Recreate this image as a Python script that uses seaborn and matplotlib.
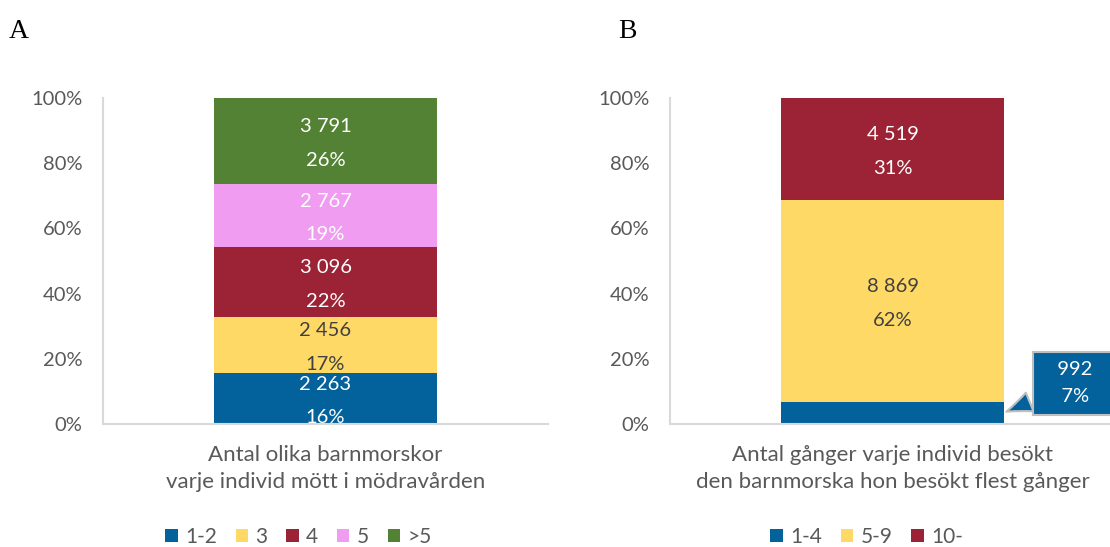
import numpy as np
import pandas as pd
import seaborn as sns
import matplotlib
matplotlib.use("Agg")
import matplotlib.pyplot as plt
from matplotlib.patches import Patch

# ---- data ----
cats_a = ["1-2", "3", "4", "5", ">5"]
counts_a = [2263, 2456, 3096, 2767, 3791]
colors_a = ["#03629B", "#FFD966", "#9B2335", "#F09CF0", "#548235"]
xlabel_a = "Antal olika barnmorskor\nvarje individ mött i mödravården"

cats_b = ["1-4", "5-9", "10-"]
counts_b = [992, 8869, 4519]
colors_b = ["#03629B", "#FFD966", "#9B2335"]
xlabel_b = "Antal gånger varje individ besökt\nden barnmorska hon besökt flest gånger"

yticks = [0, 0.2, 0.4, 0.6, 0.8, 1.0]
ytick_labels = ["0%", "20%", "40%", "60%", "80%", "100%"]

sns.set_theme(style="white")
plt.rcParams["font.family"] = ["Lato", "DejaVu Sans"]

W, H = 1110, 547
fig = plt.figure(figsize=(W / 100, H / 100), dpi=100)

def px_axes(l, t, r, b):
    return fig.add_axes([l / W, 1 - b / H, (r - l) / W, (b - t) / H])

ax_a = px_axes(103, 98, 548, 424)
ax_b = px_axes(670, 98, 1115, 424)

GRAY = "#595959"
FS = 14.5

def draw(ax, cats, counts, colors, xlabel, leg_x, callout_first=False):
    counts = np.array(counts, dtype=float)
    frac = counts / counts.sum()
    cum = np.cumsum(frac)
    # draw cumulative bars from top to bottom so they stack visually
    for i in range(len(cats) - 1, -1, -1):
        df = pd.DataFrame({"g": ["x"], "v": [cum[i]]})
        sns.barplot(data=df, x="g", y="v", color=colors[i], saturation=1,
                    width=0.5, ax=ax, edgecolor="none", linewidth=0)
    ax.set_xlim(-0.5, 0.5)
    ax.set_ylim(0, 1)
    ax.set_yticks(yticks)
    ax.set_yticklabels(ytick_labels)
    ax.tick_params(axis="y", length=0, pad=15, labelsize=FS, labelcolor=GRAY)
    ax.set_xticks([])
    ax.set_ylabel("")
    ax.set_xlabel(xlabel, fontsize=16, color=GRAY, linespacing=1.45, labelpad=15)
    for s in ["top", "right"]:
        ax.spines[s].set_visible(False)
    for s in ["left", "bottom"]:
        ax.spines[s].set_color("#D9D9D9")
        ax.spines[s].set_linewidth(1.5)
    bottoms = np.concatenate([[0], cum[:-1]])
    for i, c in enumerate(counts):
        num = f"{int(c):,}".replace(",", " ")
        pct = f"{frac[i]*100:.0f}%"
        tc = "#404040" if colors[i] == "#FFD966" else "white"
        if callout_first and i == 0:
            ax.annotate(f"   {num}   \n   {pct}   ", xy=(0.25, bottoms[i] + frac[i] / 2),
                        xytext=(0.41, 0.125), textcoords="data",
                        ha="center", va="center", fontsize=FS, color="white",
                        linespacing=1.75, annotation_clip=False,
                        bbox=dict(boxstyle="square,pad=0.45", fc="#03629B",
                                  ec="#BFBFBF", lw=1.5),
                        arrowprops=dict(arrowstyle="wedge,tail_width=1.0,shrink_factor=0.45",
                                        fc="#03629B", ec="#BFBFBF", lw=1.5))
            continue
        ax.text(0, bottoms[i] + frac[i] / 2 - 0.008, f"{num}\n{pct}", ha="center",
                va="center", fontsize=FS, color=tc, linespacing=2.2)
    handles = [Patch(facecolor=colors[i], edgecolor="none", label=cats[i])
               for i in range(len(cats))]
    ax.legend(handles=handles, loc="center", bbox_to_anchor=(leg_x, -0.347),
              ncol=len(cats), frameon=False, fontsize=15, labelcolor=GRAY,
              handlelength=0.6, handleheight=0.6, handletextpad=0.35,
              columnspacing=0.9)

draw(ax_a, cats_a, counts_a, colors_a, xlabel_a, 0.439)
draw(ax_b, cats_b, counts_b, colors_b, xlabel_b, 0.4416, callout_first=True)

fig.text(9 / W, 1 - 38 / H, "A", fontsize=20, family="Liberation Serif", color="black")
fig.text(618 / W, 1 - 38 / H, "B", fontsize=20, family="Liberation Serif", color="black")

fig.savefig("out.png", dpi=100, facecolor="white")
